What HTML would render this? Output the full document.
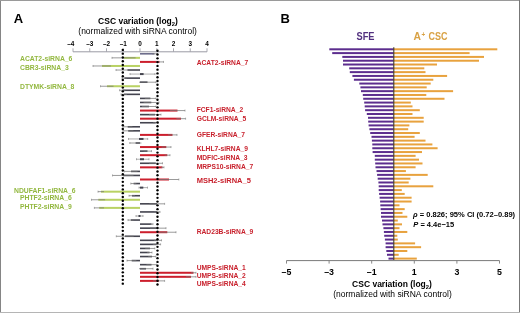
<!DOCTYPE html>
<html><head><meta charset="utf-8"><style>
html,body{margin:0;padding:0;background:#fff;}
body{width:520px;height:313px;overflow:hidden;position:relative;}
svg{display:block;font-family:"Liberation Sans", sans-serif;will-change:transform;}
</style></head><body>
<svg width="520" height="313" viewBox="0 0 520 313">
<rect x="0" y="0" width="520" height="313" fill="#fff"/>
<rect x="0" y="0" width="1" height="313" fill="#858585"/>
<rect x="0" y="0" width="520" height="1" fill="#9a9a9a"/>
<rect x="519" y="0" width="1" height="313" fill="#777"/>
<rect x="0" y="312" width="520" height="1" fill="#b5b5b5"/>
<text x="138" y="24.1" text-anchor="middle" font-weight="bold" font-size="8.5">CSC variation (log<tspan font-size="5.8" dy="1.9">2</tspan><tspan dy="-1.9">)</tspan></text>
<text x="137.6" y="34" text-anchor="middle" font-size="8.5">(normalized with siRNA control)</text>
<line x1="73.00" y1="51.8" x2="207.00" y2="51.8" stroke="#9a9aa4" stroke-width="1"/>
<line x1="73.00" y1="48.30" x2="73.00" y2="51.8" stroke="#a0a0a8" stroke-width="0.9"/>
<text x="70.80" y="46.2" text-anchor="middle" font-weight="bold" font-size="6.4">–4</text>
<line x1="89.75" y1="48.30" x2="89.75" y2="51.8" stroke="#a0a0a8" stroke-width="0.9"/>
<text x="89.75" y="46.2" text-anchor="middle" font-weight="bold" font-size="6.4">–3</text>
<line x1="106.50" y1="48.30" x2="106.50" y2="51.8" stroke="#a0a0a8" stroke-width="0.9"/>
<text x="106.50" y="46.2" text-anchor="middle" font-weight="bold" font-size="6.4">–2</text>
<line x1="123.25" y1="48.30" x2="123.25" y2="51.8" stroke="#a0a0a8" stroke-width="0.9"/>
<text x="123.25" y="46.2" text-anchor="middle" font-weight="bold" font-size="6.4">–1</text>
<line x1="140.00" y1="48.30" x2="140.00" y2="51.8" stroke="#a0a0a8" stroke-width="0.9"/>
<text x="140.00" y="46.2" text-anchor="middle" font-weight="bold" font-size="6.4">0</text>
<line x1="156.75" y1="48.30" x2="156.75" y2="51.8" stroke="#a0a0a8" stroke-width="0.9"/>
<text x="156.75" y="46.2" text-anchor="middle" font-weight="bold" font-size="6.4">1</text>
<line x1="173.50" y1="48.30" x2="173.50" y2="51.8" stroke="#a0a0a8" stroke-width="0.9"/>
<text x="173.50" y="46.2" text-anchor="middle" font-weight="bold" font-size="6.4">2</text>
<line x1="190.25" y1="48.30" x2="190.25" y2="51.8" stroke="#a0a0a8" stroke-width="0.9"/>
<text x="190.25" y="46.2" text-anchor="middle" font-weight="bold" font-size="6.4">3</text>
<line x1="207.00" y1="48.30" x2="207.00" y2="51.8" stroke="#a0a0a8" stroke-width="0.9"/>
<text x="207.00" y="46.2" text-anchor="middle" font-weight="bold" font-size="6.4">4</text>
<rect x="140.00" y="53.00" width="14.50" height="1.6" fill="#6e6e8c"/>
<line x1="152.00" y1="53.80" x2="157.00" y2="53.80" stroke="#787878" stroke-width="0.75"/>
<line x1="157.00" y1="52.80" x2="157.00" y2="54.80" stroke="#787878" stroke-width="0.6"/>
<rect x="123.80" y="56.85" width="16.20" height="2.0" fill="#b9d264"/>
<line x1="112.00" y1="57.85" x2="135.60" y2="57.85" stroke="#787878" stroke-width="0.75"/>
<line x1="112.00" y1="56.85" x2="112.00" y2="58.85" stroke="#787878" stroke-width="0.6"/>
<rect x="140.00" y="60.91" width="19.50" height="2.0" fill="#cc1f2d"/>
<line x1="155.50" y1="61.91" x2="163.50" y2="61.91" stroke="#787878" stroke-width="0.75"/>
<line x1="163.50" y1="60.91" x2="163.50" y2="62.91" stroke="#787878" stroke-width="0.6"/>
<rect x="102.00" y="64.97" width="38.00" height="2.0" fill="#b9d264"/>
<line x1="93.00" y1="65.97" x2="111.00" y2="65.97" stroke="#787878" stroke-width="0.75"/>
<line x1="93.00" y1="64.97" x2="93.00" y2="66.97" stroke="#787878" stroke-width="0.6"/>
<rect x="127.50" y="69.22" width="12.50" height="1.6" fill="#44444f"/>
<line x1="116.00" y1="70.02" x2="139.00" y2="70.02" stroke="#787878" stroke-width="0.75"/>
<line x1="116.00" y1="69.02" x2="116.00" y2="71.02" stroke="#787878" stroke-width="0.6"/>
<line x1="130" y1="74.07" x2="155" y2="74.07" stroke="#787878" stroke-width="0.6"/>
<rect x="140" y="73.07" width="3.60" height="2.0" fill="#44444f"/>
<line x1="130" y1="73.07" x2="130" y2="75.07" stroke="#787878" stroke-width="0.6"/>
<line x1="155" y1="73.07" x2="155" y2="75.07" stroke="#787878" stroke-width="0.6"/>
<rect x="124.40" y="77.33" width="15.60" height="1.6" fill="#44444f"/>
<line x1="122.00" y1="78.13" x2="126.80" y2="78.13" stroke="#787878" stroke-width="0.75"/>
<line x1="122.00" y1="77.13" x2="122.00" y2="79.13" stroke="#787878" stroke-width="0.6"/>
<rect x="140.00" y="81.39" width="7.50" height="1.6" fill="#44444f"/>
<line x1="139.00" y1="82.19" x2="156.00" y2="82.19" stroke="#787878" stroke-width="0.75"/>
<line x1="156.00" y1="81.19" x2="156.00" y2="83.19" stroke="#787878" stroke-width="0.6"/>
<rect x="107.00" y="85.24" width="33.00" height="2.0" fill="#b9d264"/>
<line x1="100.50" y1="86.24" x2="113.50" y2="86.24" stroke="#787878" stroke-width="0.75"/>
<line x1="100.50" y1="85.24" x2="100.50" y2="87.24" stroke="#787878" stroke-width="0.6"/>
<rect x="122.50" y="89.49" width="17.50" height="1.6" fill="#44444f"/>
<line x1="119.60" y1="90.29" x2="125.40" y2="90.29" stroke="#787878" stroke-width="0.75"/>
<line x1="119.60" y1="89.29" x2="119.60" y2="91.29" stroke="#787878" stroke-width="0.6"/>
<rect x="124.00" y="93.55" width="16.00" height="1.6" fill="#44444f"/>
<line x1="121.00" y1="94.35" x2="127.00" y2="94.35" stroke="#787878" stroke-width="0.75"/>
<line x1="121.00" y1="93.35" x2="121.00" y2="95.35" stroke="#787878" stroke-width="0.6"/>
<rect x="140.00" y="97.61" width="10.40" height="1.6" fill="#44444f"/>
<line x1="144.80" y1="98.41" x2="156.00" y2="98.41" stroke="#787878" stroke-width="0.75"/>
<line x1="156.00" y1="97.41" x2="156.00" y2="99.41" stroke="#787878" stroke-width="0.6"/>
<rect x="140.00" y="101.66" width="11.30" height="1.6" fill="#44444f"/>
<line x1="143.60" y1="102.46" x2="159.00" y2="102.46" stroke="#787878" stroke-width="0.75"/>
<line x1="159.00" y1="101.46" x2="159.00" y2="103.46" stroke="#787878" stroke-width="0.6"/>
<rect x="140.00" y="105.71" width="9.00" height="1.6" fill="#44444f"/>
<line x1="142.00" y1="106.51" x2="156.00" y2="106.51" stroke="#787878" stroke-width="0.75"/>
<line x1="156.00" y1="105.51" x2="156.00" y2="107.51" stroke="#787878" stroke-width="0.6"/>
<rect x="140.00" y="109.57" width="37.50" height="2.0" fill="#cc1f2d"/>
<line x1="170.00" y1="110.57" x2="185.00" y2="110.57" stroke="#787878" stroke-width="0.75"/>
<line x1="185.00" y1="109.57" x2="185.00" y2="111.57" stroke="#787878" stroke-width="0.6"/>
<rect x="140.00" y="113.83" width="15.00" height="1.6" fill="#44444f"/>
<line x1="149.00" y1="114.62" x2="161.00" y2="114.62" stroke="#787878" stroke-width="0.75"/>
<line x1="161.00" y1="113.62" x2="161.00" y2="115.62" stroke="#787878" stroke-width="0.6"/>
<rect x="140.00" y="117.68" width="41.00" height="2.0" fill="#cc1f2d"/>
<line x1="176.40" y1="118.68" x2="185.60" y2="118.68" stroke="#787878" stroke-width="0.75"/>
<line x1="185.60" y1="117.68" x2="185.60" y2="119.68" stroke="#787878" stroke-width="0.6"/>
<rect x="140.00" y="121.94" width="15.80" height="1.6" fill="#44444f"/>
<line x1="153.10" y1="122.73" x2="158.50" y2="122.73" stroke="#787878" stroke-width="0.75"/>
<line x1="158.50" y1="121.73" x2="158.50" y2="123.73" stroke="#787878" stroke-width="0.6"/>
<rect x="127.70" y="125.99" width="12.30" height="1.6" fill="#44444f"/>
<line x1="123.00" y1="126.79" x2="132.40" y2="126.79" stroke="#787878" stroke-width="0.75"/>
<line x1="123.00" y1="125.79" x2="123.00" y2="127.79" stroke="#787878" stroke-width="0.6"/>
<rect x="128.20" y="130.04" width="11.80" height="1.6" fill="#44444f"/>
<line x1="123.00" y1="130.84" x2="133.40" y2="130.84" stroke="#787878" stroke-width="0.75"/>
<line x1="123.00" y1="129.84" x2="123.00" y2="131.84" stroke="#787878" stroke-width="0.6"/>
<rect x="140.00" y="133.90" width="32.50" height="2.0" fill="#cc1f2d"/>
<line x1="168.00" y1="134.90" x2="177.00" y2="134.90" stroke="#787878" stroke-width="0.75"/>
<line x1="177.00" y1="133.90" x2="177.00" y2="135.90" stroke="#787878" stroke-width="0.6"/>
<line x1="128.5" y1="138.95" x2="147.7" y2="138.95" stroke="#787878" stroke-width="0.6"/>
<rect x="139" y="137.95" width="4.50" height="2.0" fill="#44444f"/>
<line x1="128.5" y1="137.95" x2="128.5" y2="139.95" stroke="#787878" stroke-width="0.6"/>
<line x1="147.7" y1="137.95" x2="147.7" y2="139.95" stroke="#787878" stroke-width="0.6"/>
<rect x="135.60" y="142.21" width="4.40" height="1.6" fill="#44444f"/>
<line x1="129.80" y1="143.01" x2="141.40" y2="143.01" stroke="#787878" stroke-width="0.75"/>
<line x1="129.80" y1="142.01" x2="129.80" y2="144.01" stroke="#787878" stroke-width="0.6"/>
<rect x="140.00" y="146.06" width="26.30" height="2.0" fill="#cc1f2d"/>
<line x1="161.60" y1="147.06" x2="171.00" y2="147.06" stroke="#787878" stroke-width="0.75"/>
<line x1="171.00" y1="146.06" x2="171.00" y2="148.06" stroke="#787878" stroke-width="0.6"/>
<rect x="140.00" y="150.32" width="7.50" height="1.6" fill="#44444f"/>
<line x1="143.50" y1="151.12" x2="151.50" y2="151.12" stroke="#787878" stroke-width="0.75"/>
<line x1="151.50" y1="150.12" x2="151.50" y2="152.12" stroke="#787878" stroke-width="0.6"/>
<rect x="140.00" y="154.18" width="27.30" height="2.0" fill="#cc1f2d"/>
<line x1="164.60" y1="155.18" x2="170.00" y2="155.18" stroke="#787878" stroke-width="0.75"/>
<line x1="170.00" y1="154.18" x2="170.00" y2="156.18" stroke="#787878" stroke-width="0.6"/>
<line x1="136.5" y1="159.23" x2="149" y2="159.23" stroke="#787878" stroke-width="0.6"/>
<rect x="140" y="158.23" width="4.00" height="2.0" fill="#44444f"/>
<line x1="136.5" y1="158.23" x2="136.5" y2="160.23" stroke="#787878" stroke-width="0.6"/>
<line x1="149" y1="158.23" x2="149" y2="160.23" stroke="#787878" stroke-width="0.6"/>
<rect x="140.00" y="162.48" width="15.80" height="1.6" fill="#44444f"/>
<line x1="149.10" y1="163.28" x2="162.50" y2="163.28" stroke="#787878" stroke-width="0.75"/>
<line x1="162.50" y1="162.28" x2="162.50" y2="164.28" stroke="#787878" stroke-width="0.6"/>
<rect x="140.00" y="166.34" width="22.50" height="2.0" fill="#cc1f2d"/>
<line x1="161.00" y1="167.34" x2="164.00" y2="167.34" stroke="#787878" stroke-width="0.75"/>
<line x1="164.00" y1="166.34" x2="164.00" y2="168.34" stroke="#787878" stroke-width="0.6"/>
<rect x="131.00" y="170.59" width="9.00" height="1.6" fill="#44444f"/>
<line x1="124.50" y1="171.39" x2="137.50" y2="171.39" stroke="#787878" stroke-width="0.75"/>
<line x1="124.50" y1="170.39" x2="124.50" y2="172.39" stroke="#787878" stroke-width="0.6"/>
<rect x="123.00" y="174.65" width="17.00" height="1.6" fill="#44444f"/>
<line x1="112.50" y1="175.45" x2="133.50" y2="175.45" stroke="#787878" stroke-width="0.75"/>
<line x1="112.50" y1="174.45" x2="112.50" y2="176.45" stroke="#787878" stroke-width="0.6"/>
<rect x="140.00" y="178.50" width="29.00" height="2.0" fill="#cc1f2d"/>
<line x1="159.20" y1="179.50" x2="178.80" y2="179.50" stroke="#787878" stroke-width="0.75"/>
<line x1="178.80" y1="178.50" x2="178.80" y2="180.50" stroke="#787878" stroke-width="0.6"/>
<rect x="133.60" y="182.76" width="6.40" height="1.6" fill="#44444f"/>
<line x1="130.80" y1="183.56" x2="136.40" y2="183.56" stroke="#787878" stroke-width="0.75"/>
<line x1="130.80" y1="182.56" x2="130.80" y2="184.56" stroke="#787878" stroke-width="0.6"/>
<line x1="139" y1="187.62" x2="147.5" y2="187.62" stroke="#787878" stroke-width="0.6"/>
<rect x="140" y="186.62" width="3.30" height="2.0" fill="#44444f"/>
<line x1="139" y1="186.62" x2="139" y2="188.62" stroke="#787878" stroke-width="0.6"/>
<line x1="147.5" y1="186.62" x2="147.5" y2="188.62" stroke="#787878" stroke-width="0.6"/>
<rect x="101.00" y="190.67" width="39.00" height="2.0" fill="#b9d264"/>
<line x1="98.00" y1="191.67" x2="104.00" y2="191.67" stroke="#787878" stroke-width="0.75"/>
<line x1="98.00" y1="190.67" x2="98.00" y2="192.67" stroke="#787878" stroke-width="0.6"/>
<rect x="132.00" y="194.92" width="8.00" height="1.6" fill="#44444f"/>
<line x1="129.00" y1="195.72" x2="135.00" y2="195.72" stroke="#787878" stroke-width="0.75"/>
<line x1="129.00" y1="194.72" x2="129.00" y2="196.72" stroke="#787878" stroke-width="0.6"/>
<rect x="98.30" y="198.78" width="41.70" height="2.0" fill="#b9d264"/>
<line x1="91.50" y1="199.78" x2="105.10" y2="199.78" stroke="#787878" stroke-width="0.75"/>
<line x1="91.50" y1="198.78" x2="91.50" y2="200.78" stroke="#787878" stroke-width="0.6"/>
<rect x="140.00" y="203.03" width="17.00" height="1.6" fill="#44444f"/>
<line x1="149.40" y1="203.83" x2="164.60" y2="203.83" stroke="#787878" stroke-width="0.75"/>
<line x1="164.60" y1="202.83" x2="164.60" y2="204.83" stroke="#787878" stroke-width="0.6"/>
<rect x="99.20" y="206.89" width="40.80" height="2.0" fill="#b9d264"/>
<line x1="94.40" y1="207.89" x2="104.00" y2="207.89" stroke="#787878" stroke-width="0.75"/>
<line x1="94.40" y1="206.89" x2="94.40" y2="208.89" stroke="#787878" stroke-width="0.6"/>
<rect x="140.00" y="211.14" width="17.00" height="1.6" fill="#44444f"/>
<line x1="154.00" y1="211.94" x2="160.00" y2="211.94" stroke="#787878" stroke-width="0.75"/>
<line x1="160.00" y1="210.94" x2="160.00" y2="212.94" stroke="#787878" stroke-width="0.6"/>
<line x1="136" y1="216.00" x2="143" y2="216.00" stroke="#787878" stroke-width="0.6"/>
<rect x="138.5" y="215.00" width="2.00" height="2.0" fill="#44444f"/>
<line x1="136" y1="215.00" x2="136" y2="217.00" stroke="#787878" stroke-width="0.6"/>
<line x1="143" y1="215.00" x2="143" y2="217.00" stroke="#787878" stroke-width="0.6"/>
<rect x="130.80" y="219.25" width="9.20" height="1.6" fill="#44444f"/>
<line x1="128.00" y1="220.06" x2="133.60" y2="220.06" stroke="#787878" stroke-width="0.75"/>
<line x1="128.00" y1="219.06" x2="128.00" y2="221.06" stroke="#787878" stroke-width="0.6"/>
<rect x="140.00" y="223.31" width="11.50" height="1.6" fill="#44444f"/>
<line x1="150.00" y1="224.11" x2="153.00" y2="224.11" stroke="#787878" stroke-width="0.75"/>
<line x1="153.00" y1="223.11" x2="153.00" y2="225.11" stroke="#787878" stroke-width="0.6"/>
<rect x="140.00" y="227.36" width="18.00" height="1.6" fill="#44444f"/>
<line x1="150.00" y1="228.16" x2="166.00" y2="228.16" stroke="#787878" stroke-width="0.75"/>
<line x1="166.00" y1="227.16" x2="166.00" y2="229.16" stroke="#787878" stroke-width="0.6"/>
<rect x="140.00" y="231.22" width="27.30" height="2.0" fill="#cc1f2d"/>
<line x1="158.60" y1="232.22" x2="176.00" y2="232.22" stroke="#787878" stroke-width="0.75"/>
<line x1="176.00" y1="231.22" x2="176.00" y2="233.22" stroke="#787878" stroke-width="0.6"/>
<rect x="125.00" y="235.47" width="15.00" height="1.6" fill="#44444f"/>
<line x1="116.30" y1="236.27" x2="133.70" y2="236.27" stroke="#787878" stroke-width="0.75"/>
<line x1="116.30" y1="235.27" x2="116.30" y2="237.27" stroke="#787878" stroke-width="0.6"/>
<rect x="140.00" y="239.53" width="17.70" height="1.6" fill="#44444f"/>
<line x1="153.90" y1="240.33" x2="161.50" y2="240.33" stroke="#787878" stroke-width="0.75"/>
<line x1="161.50" y1="239.33" x2="161.50" y2="241.33" stroke="#787878" stroke-width="0.6"/>
<rect x="140.00" y="243.58" width="16.70" height="1.6" fill="#44444f"/>
<line x1="152.80" y1="244.38" x2="160.60" y2="244.38" stroke="#787878" stroke-width="0.75"/>
<line x1="160.60" y1="243.38" x2="160.60" y2="245.38" stroke="#787878" stroke-width="0.6"/>
<rect x="140.00" y="247.64" width="10.00" height="1.6" fill="#44444f"/>
<line x1="145.20" y1="248.44" x2="154.80" y2="248.44" stroke="#787878" stroke-width="0.75"/>
<line x1="154.80" y1="247.44" x2="154.80" y2="249.44" stroke="#787878" stroke-width="0.6"/>
<rect x="140.00" y="251.69" width="9.60" height="1.6" fill="#44444f"/>
<line x1="147.20" y1="252.50" x2="152.00" y2="252.50" stroke="#787878" stroke-width="0.75"/>
<line x1="152.00" y1="251.50" x2="152.00" y2="253.50" stroke="#787878" stroke-width="0.6"/>
<rect x="140.00" y="255.75" width="12.00" height="1.6" fill="#44444f"/>
<line x1="148.20" y1="256.55" x2="155.80" y2="256.55" stroke="#787878" stroke-width="0.75"/>
<line x1="155.80" y1="255.55" x2="155.80" y2="257.55" stroke="#787878" stroke-width="0.6"/>
<rect x="131.70" y="259.80" width="8.30" height="1.6" fill="#44444f"/>
<line x1="127.00" y1="260.60" x2="136.40" y2="260.60" stroke="#787878" stroke-width="0.75"/>
<line x1="127.00" y1="259.60" x2="127.00" y2="261.60" stroke="#787878" stroke-width="0.6"/>
<rect x="140.00" y="263.86" width="11.50" height="1.6" fill="#44444f"/>
<line x1="146.40" y1="264.66" x2="156.60" y2="264.66" stroke="#787878" stroke-width="0.75"/>
<line x1="156.60" y1="263.66" x2="156.60" y2="265.66" stroke="#787878" stroke-width="0.6"/>
<rect x="140.00" y="267.91" width="6.00" height="1.6" fill="#44444f"/>
<line x1="139.00" y1="268.71" x2="153.00" y2="268.71" stroke="#787878" stroke-width="0.75"/>
<line x1="153.00" y1="267.71" x2="153.00" y2="269.71" stroke="#787878" stroke-width="0.6"/>
<rect x="140.00" y="271.77" width="53.50" height="2.0" fill="#cc1f2d"/>
<line x1="191.00" y1="272.77" x2="196.00" y2="272.77" stroke="#787878" stroke-width="0.75"/>
<line x1="196.00" y1="271.77" x2="196.00" y2="273.77" stroke="#787878" stroke-width="0.6"/>
<rect x="140.00" y="275.82" width="51.00" height="2.0" fill="#cc1f2d"/>
<line x1="186.00" y1="276.82" x2="196.00" y2="276.82" stroke="#787878" stroke-width="0.75"/>
<line x1="196.00" y1="275.82" x2="196.00" y2="277.82" stroke="#787878" stroke-width="0.6"/>
<rect x="140.00" y="279.88" width="18.80" height="2.0" fill="#cc1f2d"/>
<line x1="153.00" y1="280.88" x2="164.60" y2="280.88" stroke="#787878" stroke-width="0.75"/>
<line x1="164.60" y1="279.88" x2="164.60" y2="281.88" stroke="#787878" stroke-width="0.6"/>
<circle cx="122.8" cy="49.90" r="1.2" fill="#000"/>
<circle cx="122.8" cy="53.67" r="1.2" fill="#000"/>
<circle cx="122.8" cy="57.44" r="1.2" fill="#000"/>
<circle cx="122.8" cy="61.21" r="1.2" fill="#000"/>
<circle cx="122.8" cy="64.98" r="1.2" fill="#000"/>
<circle cx="122.8" cy="68.75" r="1.2" fill="#000"/>
<circle cx="122.8" cy="72.52" r="1.2" fill="#000"/>
<circle cx="122.8" cy="76.29" r="1.2" fill="#000"/>
<circle cx="122.8" cy="80.06" r="1.2" fill="#000"/>
<circle cx="122.8" cy="83.83" r="1.2" fill="#000"/>
<circle cx="122.8" cy="87.60" r="1.2" fill="#000"/>
<circle cx="122.8" cy="91.37" r="1.2" fill="#000"/>
<circle cx="122.8" cy="95.14" r="1.2" fill="#000"/>
<circle cx="122.8" cy="98.91" r="1.2" fill="#000"/>
<circle cx="122.8" cy="102.68" r="1.2" fill="#000"/>
<circle cx="122.8" cy="106.45" r="1.2" fill="#000"/>
<circle cx="122.8" cy="110.22" r="1.2" fill="#000"/>
<circle cx="122.8" cy="113.99" r="1.2" fill="#000"/>
<circle cx="122.8" cy="117.76" r="1.2" fill="#000"/>
<circle cx="122.8" cy="121.53" r="1.2" fill="#000"/>
<circle cx="122.8" cy="125.30" r="1.2" fill="#000"/>
<circle cx="122.8" cy="129.07" r="1.2" fill="#000"/>
<circle cx="122.8" cy="132.84" r="1.2" fill="#000"/>
<circle cx="122.8" cy="136.61" r="1.2" fill="#000"/>
<circle cx="122.8" cy="140.38" r="1.2" fill="#000"/>
<circle cx="122.8" cy="144.15" r="1.2" fill="#000"/>
<circle cx="122.8" cy="147.92" r="1.2" fill="#000"/>
<circle cx="122.8" cy="151.69" r="1.2" fill="#000"/>
<circle cx="122.8" cy="155.46" r="1.2" fill="#000"/>
<circle cx="122.8" cy="159.23" r="1.2" fill="#000"/>
<circle cx="122.8" cy="163.00" r="1.2" fill="#000"/>
<circle cx="122.8" cy="166.77" r="1.2" fill="#000"/>
<circle cx="122.8" cy="170.54" r="1.2" fill="#000"/>
<circle cx="122.8" cy="174.31" r="1.2" fill="#000"/>
<circle cx="122.8" cy="178.08" r="1.2" fill="#000"/>
<circle cx="122.8" cy="181.85" r="1.2" fill="#000"/>
<circle cx="122.8" cy="185.62" r="1.2" fill="#000"/>
<circle cx="122.8" cy="189.39" r="1.2" fill="#000"/>
<circle cx="122.8" cy="193.16" r="1.2" fill="#000"/>
<circle cx="122.8" cy="196.93" r="1.2" fill="#000"/>
<circle cx="122.8" cy="200.70" r="1.2" fill="#000"/>
<circle cx="122.8" cy="204.47" r="1.2" fill="#000"/>
<circle cx="122.8" cy="208.24" r="1.2" fill="#000"/>
<circle cx="122.8" cy="212.01" r="1.2" fill="#000"/>
<circle cx="122.8" cy="215.78" r="1.2" fill="#000"/>
<circle cx="122.8" cy="219.55" r="1.2" fill="#000"/>
<circle cx="122.8" cy="223.32" r="1.2" fill="#000"/>
<circle cx="122.8" cy="227.09" r="1.2" fill="#000"/>
<circle cx="122.8" cy="230.86" r="1.2" fill="#000"/>
<circle cx="122.8" cy="234.63" r="1.2" fill="#000"/>
<circle cx="122.8" cy="238.40" r="1.2" fill="#000"/>
<circle cx="122.8" cy="242.17" r="1.2" fill="#000"/>
<circle cx="122.8" cy="245.94" r="1.2" fill="#000"/>
<circle cx="122.8" cy="249.71" r="1.2" fill="#000"/>
<circle cx="122.8" cy="253.48" r="1.2" fill="#000"/>
<circle cx="122.8" cy="257.25" r="1.2" fill="#000"/>
<circle cx="122.8" cy="261.02" r="1.2" fill="#000"/>
<circle cx="122.8" cy="264.79" r="1.2" fill="#000"/>
<circle cx="122.8" cy="268.56" r="1.2" fill="#000"/>
<circle cx="122.8" cy="272.33" r="1.2" fill="#000"/>
<circle cx="122.8" cy="276.10" r="1.2" fill="#000"/>
<circle cx="122.8" cy="279.87" r="1.2" fill="#000"/>
<circle cx="122.8" cy="283.64" r="1.2" fill="#000"/>
<circle cx="157.5" cy="50.80" r="1.2" fill="#000"/>
<circle cx="157.5" cy="54.57" r="1.2" fill="#000"/>
<circle cx="157.5" cy="58.34" r="1.2" fill="#000"/>
<circle cx="157.5" cy="62.11" r="1.2" fill="#000"/>
<circle cx="157.5" cy="65.88" r="1.2" fill="#000"/>
<circle cx="157.5" cy="69.65" r="1.2" fill="#000"/>
<circle cx="157.5" cy="73.42" r="1.2" fill="#000"/>
<circle cx="157.5" cy="77.19" r="1.2" fill="#000"/>
<circle cx="157.5" cy="80.96" r="1.2" fill="#000"/>
<circle cx="157.5" cy="84.73" r="1.2" fill="#000"/>
<circle cx="157.5" cy="88.50" r="1.2" fill="#000"/>
<circle cx="157.5" cy="92.27" r="1.2" fill="#000"/>
<circle cx="157.5" cy="96.04" r="1.2" fill="#000"/>
<circle cx="157.5" cy="99.81" r="1.2" fill="#000"/>
<circle cx="157.5" cy="103.58" r="1.2" fill="#000"/>
<circle cx="157.5" cy="107.35" r="1.2" fill="#000"/>
<circle cx="157.5" cy="111.12" r="1.2" fill="#000"/>
<circle cx="157.5" cy="114.89" r="1.2" fill="#000"/>
<circle cx="157.5" cy="118.66" r="1.2" fill="#000"/>
<circle cx="157.5" cy="122.43" r="1.2" fill="#000"/>
<circle cx="157.5" cy="126.20" r="1.2" fill="#000"/>
<circle cx="157.5" cy="129.97" r="1.2" fill="#000"/>
<circle cx="157.5" cy="133.74" r="1.2" fill="#000"/>
<circle cx="157.5" cy="137.51" r="1.2" fill="#000"/>
<circle cx="157.5" cy="141.28" r="1.2" fill="#000"/>
<circle cx="157.5" cy="145.05" r="1.2" fill="#000"/>
<circle cx="157.5" cy="148.82" r="1.2" fill="#000"/>
<circle cx="157.5" cy="152.59" r="1.2" fill="#000"/>
<circle cx="157.5" cy="156.36" r="1.2" fill="#000"/>
<circle cx="157.5" cy="160.13" r="1.2" fill="#000"/>
<circle cx="157.5" cy="163.90" r="1.2" fill="#000"/>
<circle cx="157.5" cy="167.67" r="1.2" fill="#000"/>
<circle cx="157.5" cy="171.44" r="1.2" fill="#000"/>
<circle cx="157.5" cy="175.21" r="1.2" fill="#000"/>
<circle cx="157.5" cy="178.98" r="1.2" fill="#000"/>
<circle cx="157.5" cy="182.75" r="1.2" fill="#000"/>
<circle cx="157.5" cy="186.52" r="1.2" fill="#000"/>
<circle cx="157.5" cy="190.29" r="1.2" fill="#000"/>
<circle cx="157.5" cy="194.06" r="1.2" fill="#000"/>
<circle cx="157.5" cy="197.83" r="1.2" fill="#000"/>
<circle cx="157.5" cy="201.60" r="1.2" fill="#000"/>
<circle cx="157.5" cy="205.37" r="1.2" fill="#000"/>
<circle cx="157.5" cy="209.14" r="1.2" fill="#000"/>
<circle cx="157.5" cy="212.91" r="1.2" fill="#000"/>
<circle cx="157.5" cy="216.68" r="1.2" fill="#000"/>
<circle cx="157.5" cy="220.45" r="1.2" fill="#000"/>
<circle cx="157.5" cy="224.22" r="1.2" fill="#000"/>
<circle cx="157.5" cy="227.99" r="1.2" fill="#000"/>
<circle cx="157.5" cy="231.76" r="1.2" fill="#000"/>
<circle cx="157.5" cy="235.53" r="1.2" fill="#000"/>
<circle cx="157.5" cy="239.30" r="1.2" fill="#000"/>
<circle cx="157.5" cy="243.07" r="1.2" fill="#000"/>
<circle cx="157.5" cy="246.84" r="1.2" fill="#000"/>
<circle cx="157.5" cy="250.61" r="1.2" fill="#000"/>
<circle cx="157.5" cy="254.38" r="1.2" fill="#000"/>
<circle cx="157.5" cy="258.15" r="1.2" fill="#000"/>
<circle cx="157.5" cy="261.92" r="1.2" fill="#000"/>
<circle cx="157.5" cy="265.69" r="1.2" fill="#000"/>
<circle cx="157.5" cy="269.46" r="1.2" fill="#000"/>
<circle cx="157.5" cy="273.23" r="1.2" fill="#000"/>
<circle cx="157.5" cy="277.00" r="1.2" fill="#000"/>
<circle cx="157.5" cy="280.77" r="1.2" fill="#000"/>
<circle cx="157.5" cy="284.54" r="1.2" fill="#000"/>
<text x="20" y="60.70" font-weight="bold" font-size="6.8" fill="#93b840">ACAT2-siRNA_6</text>
<text x="20" y="69.50" font-weight="bold" font-size="6.8" fill="#93b840">CBR3-siRNA_3</text>
<text x="20" y="89.20" font-weight="bold" font-size="6.8" fill="#93b840">DTYMK-siRNA_8</text>
<text x="14" y="193.40" font-weight="bold" font-size="6.8" fill="#93b840">NDUFAF1-siRNA_6</text>
<text x="20" y="199.90" font-weight="bold" font-size="6.8" fill="#93b840">PHTF2-siRNA_6</text>
<text x="20" y="208.90" font-weight="bold" font-size="6.8" fill="#93b840">PHTF2-siRNA_9</text>
<text x="196.7" y="65.10" font-weight="bold" font-size="6.7" fill="#c8202c">ACAT2-siRNA_7</text>
<text x="196.7" y="111.80" font-weight="bold" font-size="6.7" fill="#c8202c">FCF1-siRNA_2</text>
<text x="196.7" y="120.50" font-weight="bold" font-size="6.7" fill="#c8202c">GCLM-siRNA_5</text>
<text x="196.7" y="137.10" font-weight="bold" font-size="6.7" fill="#c8202c">GFER-siRNA_7</text>
<text x="196.7" y="150.80" font-weight="bold" font-size="6.7" fill="#c8202c">KLHL7-siRNA_9</text>
<text x="196.7" y="159.60" font-weight="bold" font-size="6.7" fill="#c8202c">MDFIC-siRNA_3</text>
<text x="196.7" y="168.80" font-weight="bold" font-size="6.7" fill="#c8202c">MRPS10-siRNA_7</text>
<text x="196.7" y="183.00" font-weight="bold" font-size="7.5" fill="#c8202c">MSH2-siRNA_5</text>
<text x="196.7" y="234.20" font-weight="bold" font-size="6.7" fill="#c8202c">RAD23B-siRNA_9</text>
<text x="196.7" y="270.30" font-weight="bold" font-size="6.7" fill="#c8202c">UMPS-siRNA_1</text>
<text x="196.7" y="278.20" font-weight="bold" font-size="6.7" fill="#c8202c">UMPS-siRNA_2</text>
<text x="196.7" y="286.20" font-weight="bold" font-size="6.7" fill="#c8202c">UMPS-siRNA_4</text>
<text x="13.8" y="23" font-weight="bold" font-size="13">A</text>
<text x="280.5" y="23" font-weight="bold" font-size="13">B</text>
<text x="356.5" y="40.3" font-weight="bold" font-size="10.3" fill="#52307f" textLength="18" lengthAdjust="spacingAndGlyphs">SFE</text>
<text x="413.6" y="40.3" font-weight="bold" font-size="10.3" fill="#d9a245">A</text>
<text x="421.6" y="36.6" font-weight="bold" font-size="6.3" fill="#d9a245">+</text>
<text x="428.6" y="40.3" font-weight="bold" font-size="10.3" fill="#d9a245" textLength="19" lengthAdjust="spacingAndGlyphs">CSC</text>
<rect x="329.30" y="48.30" width="64.50" height="2" fill="#5c2d8e"/>
<rect x="393.80" y="48.30" width="103.50" height="2" fill="#e8a23e"/>
<rect x="332.20" y="52.11" width="61.60" height="2" fill="#5c2d8e"/>
<rect x="393.80" y="52.11" width="75.80" height="2" fill="#e8a23e"/>
<rect x="342.30" y="55.91" width="51.50" height="2" fill="#5c2d8e"/>
<rect x="393.80" y="55.91" width="90.20" height="2" fill="#e8a23e"/>
<rect x="343.00" y="59.72" width="50.80" height="2" fill="#5c2d8e"/>
<rect x="393.80" y="59.72" width="85.20" height="2" fill="#e8a23e"/>
<rect x="343.00" y="63.52" width="50.80" height="2" fill="#5c2d8e"/>
<rect x="393.80" y="63.52" width="43.20" height="2" fill="#e8a23e"/>
<rect x="349.20" y="67.33" width="44.60" height="2" fill="#5c2d8e"/>
<rect x="393.80" y="67.33" width="30.50" height="2" fill="#e8a23e"/>
<rect x="349.80" y="71.13" width="44.00" height="2" fill="#5c2d8e"/>
<rect x="393.80" y="71.13" width="31.70" height="2" fill="#e8a23e"/>
<rect x="352.40" y="74.94" width="41.40" height="2" fill="#5c2d8e"/>
<rect x="393.80" y="74.94" width="53.30" height="2" fill="#e8a23e"/>
<rect x="353.90" y="78.74" width="39.90" height="2" fill="#5c2d8e"/>
<rect x="393.80" y="78.74" width="39.50" height="2" fill="#e8a23e"/>
<rect x="359.30" y="82.55" width="34.50" height="2" fill="#5c2d8e"/>
<rect x="393.80" y="82.55" width="36.90" height="2" fill="#e8a23e"/>
<rect x="360.40" y="86.35" width="33.40" height="2" fill="#5c2d8e"/>
<rect x="393.80" y="86.35" width="32.90" height="2" fill="#e8a23e"/>
<rect x="361.00" y="90.16" width="32.80" height="2" fill="#5c2d8e"/>
<rect x="393.80" y="90.16" width="59.30" height="2" fill="#e8a23e"/>
<rect x="362.80" y="93.97" width="31.00" height="2" fill="#5c2d8e"/>
<rect x="393.80" y="93.97" width="32.50" height="2" fill="#e8a23e"/>
<rect x="363.20" y="97.77" width="30.60" height="2" fill="#5c2d8e"/>
<rect x="393.80" y="97.77" width="50.70" height="2" fill="#e8a23e"/>
<rect x="364.20" y="101.58" width="29.60" height="2" fill="#5c2d8e"/>
<rect x="393.80" y="101.58" width="17.00" height="2" fill="#e8a23e"/>
<rect x="364.70" y="105.38" width="29.10" height="2" fill="#5c2d8e"/>
<rect x="393.80" y="105.38" width="18.70" height="2" fill="#e8a23e"/>
<rect x="365.10" y="109.19" width="28.70" height="2" fill="#5c2d8e"/>
<rect x="393.80" y="109.19" width="26.00" height="2" fill="#e8a23e"/>
<rect x="366.80" y="112.99" width="27.00" height="2" fill="#5c2d8e"/>
<rect x="393.80" y="112.99" width="18.70" height="2" fill="#e8a23e"/>
<rect x="368.00" y="116.80" width="25.80" height="2" fill="#5c2d8e"/>
<rect x="393.80" y="116.80" width="29.90" height="2" fill="#e8a23e"/>
<rect x="368.20" y="120.60" width="25.60" height="2" fill="#5c2d8e"/>
<rect x="393.80" y="120.60" width="29.90" height="2" fill="#e8a23e"/>
<rect x="368.60" y="124.41" width="25.20" height="2" fill="#5c2d8e"/>
<rect x="393.80" y="124.41" width="15.60" height="2" fill="#e8a23e"/>
<rect x="369.40" y="128.21" width="24.40" height="2" fill="#5c2d8e"/>
<rect x="393.80" y="128.21" width="14.40" height="2" fill="#e8a23e"/>
<rect x="370.20" y="132.02" width="23.60" height="2" fill="#5c2d8e"/>
<rect x="393.80" y="132.02" width="26.00" height="2" fill="#e8a23e"/>
<rect x="371.50" y="135.83" width="22.30" height="2" fill="#5c2d8e"/>
<rect x="393.80" y="135.83" width="20.80" height="2" fill="#e8a23e"/>
<rect x="371.90" y="139.63" width="21.90" height="2" fill="#5c2d8e"/>
<rect x="393.80" y="139.63" width="31.70" height="2" fill="#e8a23e"/>
<rect x="372.30" y="143.44" width="21.50" height="2" fill="#5c2d8e"/>
<rect x="393.80" y="143.44" width="38.60" height="2" fill="#e8a23e"/>
<rect x="372.30" y="147.24" width="21.50" height="2" fill="#5c2d8e"/>
<rect x="393.80" y="147.24" width="43.80" height="2" fill="#e8a23e"/>
<rect x="372.60" y="151.05" width="21.20" height="2" fill="#5c2d8e"/>
<rect x="393.80" y="151.05" width="28.20" height="2" fill="#e8a23e"/>
<rect x="374.80" y="154.85" width="19.00" height="2" fill="#5c2d8e"/>
<rect x="393.80" y="154.85" width="21.80" height="2" fill="#e8a23e"/>
<rect x="374.80" y="158.66" width="19.00" height="2" fill="#5c2d8e"/>
<rect x="393.80" y="158.66" width="25.20" height="2" fill="#e8a23e"/>
<rect x="375.20" y="162.46" width="18.60" height="2" fill="#5c2d8e"/>
<rect x="393.80" y="162.46" width="28.70" height="2" fill="#e8a23e"/>
<rect x="375.50" y="166.27" width="18.30" height="2" fill="#5c2d8e"/>
<rect x="393.80" y="166.27" width="21.80" height="2" fill="#e8a23e"/>
<rect x="376.50" y="170.07" width="17.30" height="2" fill="#5c2d8e"/>
<rect x="393.80" y="170.07" width="12.10" height="2" fill="#e8a23e"/>
<rect x="377.10" y="173.88" width="16.70" height="2" fill="#5c2d8e"/>
<rect x="393.80" y="173.88" width="33.90" height="2" fill="#e8a23e"/>
<rect x="377.70" y="177.69" width="16.10" height="2" fill="#5c2d8e"/>
<rect x="393.80" y="177.69" width="16.60" height="2" fill="#e8a23e"/>
<rect x="378.40" y="181.49" width="15.40" height="2" fill="#5c2d8e"/>
<rect x="393.80" y="181.49" width="14.90" height="2" fill="#e8a23e"/>
<rect x="378.70" y="185.30" width="15.10" height="2" fill="#5c2d8e"/>
<rect x="393.80" y="185.30" width="39.50" height="2" fill="#e8a23e"/>
<rect x="378.70" y="189.10" width="15.10" height="2" fill="#5c2d8e"/>
<rect x="393.80" y="189.10" width="8.00" height="2" fill="#e8a23e"/>
<rect x="379.10" y="192.91" width="14.70" height="2" fill="#5c2d8e"/>
<rect x="393.80" y="192.91" width="10.90" height="2" fill="#e8a23e"/>
<rect x="379.60" y="196.71" width="14.20" height="2" fill="#5c2d8e"/>
<rect x="393.80" y="196.71" width="17.80" height="2" fill="#e8a23e"/>
<rect x="380.10" y="200.52" width="13.70" height="2" fill="#5c2d8e"/>
<rect x="393.80" y="200.52" width="17.80" height="2" fill="#e8a23e"/>
<rect x="380.30" y="204.32" width="13.50" height="2" fill="#5c2d8e"/>
<rect x="393.80" y="204.32" width="5.70" height="2" fill="#e8a23e"/>
<rect x="380.60" y="208.13" width="13.20" height="2" fill="#5c2d8e"/>
<rect x="393.80" y="208.13" width="10.90" height="2" fill="#e8a23e"/>
<rect x="381.00" y="211.93" width="12.80" height="2" fill="#5c2d8e"/>
<rect x="393.80" y="211.93" width="8.70" height="2" fill="#e8a23e"/>
<rect x="381.00" y="215.74" width="12.80" height="2" fill="#5c2d8e"/>
<rect x="393.80" y="215.74" width="13.50" height="2" fill="#e8a23e"/>
<rect x="382.00" y="219.55" width="11.80" height="2" fill="#5c2d8e"/>
<rect x="393.80" y="219.55" width="4.00" height="2" fill="#e8a23e"/>
<rect x="382.50" y="223.35" width="11.30" height="2" fill="#5c2d8e"/>
<rect x="393.80" y="223.35" width="8.20" height="2" fill="#e8a23e"/>
<rect x="383.40" y="227.16" width="10.40" height="2" fill="#5c2d8e"/>
<rect x="393.80" y="227.16" width="5.70" height="2" fill="#e8a23e"/>
<rect x="383.90" y="230.96" width="9.90" height="2" fill="#5c2d8e"/>
<rect x="393.80" y="230.96" width="13.50" height="2" fill="#e8a23e"/>
<rect x="384.20" y="234.77" width="9.60" height="2" fill="#5c2d8e"/>
<rect x="393.80" y="234.77" width="3.50" height="2" fill="#e8a23e"/>
<rect x="384.90" y="238.57" width="8.90" height="2" fill="#5c2d8e"/>
<rect x="393.80" y="238.57" width="4.00" height="2" fill="#e8a23e"/>
<rect x="385.60" y="242.38" width="8.20" height="2" fill="#5c2d8e"/>
<rect x="393.80" y="242.38" width="21.30" height="2" fill="#e8a23e"/>
<rect x="385.60" y="246.18" width="8.20" height="2" fill="#5c2d8e"/>
<rect x="393.80" y="246.18" width="27.30" height="2" fill="#e8a23e"/>
<rect x="386.30" y="249.99" width="7.50" height="2" fill="#5c2d8e"/>
<rect x="393.80" y="249.99" width="13.50" height="2" fill="#e8a23e"/>
<rect x="387.00" y="253.79" width="6.80" height="2" fill="#5c2d8e"/>
<rect x="393.80" y="253.79" width="4.90" height="2" fill="#e8a23e"/>
<rect x="388.50" y="257.60" width="5.30" height="2" fill="#5c2d8e"/>
<rect x="393.80" y="257.60" width="23.00" height="2" fill="#e8a23e"/>
<line x1="393.80" y1="47.3" x2="393.80" y2="260" stroke="#3d3a2a" stroke-width="1.1"/>
<line x1="286.50" y1="260.6" x2="499.50" y2="260.6" stroke="#7a7a7a" stroke-width="1"/>
<line x1="286.50" y1="260.6" x2="286.50" y2="263.6" stroke="#7a7a7a" stroke-width="0.9"/>
<text x="286.50" y="274.5" text-anchor="middle" font-weight="bold" font-size="8.8">–5</text>
<line x1="329.10" y1="260.6" x2="329.10" y2="263.6" stroke="#7a7a7a" stroke-width="0.9"/>
<text x="329.10" y="274.5" text-anchor="middle" font-weight="bold" font-size="8.8">–3</text>
<line x1="371.70" y1="260.6" x2="371.70" y2="263.6" stroke="#7a7a7a" stroke-width="0.9"/>
<text x="371.70" y="274.5" text-anchor="middle" font-weight="bold" font-size="8.8">–1</text>
<line x1="414.30" y1="260.6" x2="414.30" y2="263.6" stroke="#7a7a7a" stroke-width="0.9"/>
<text x="414.30" y="274.5" text-anchor="middle" font-weight="bold" font-size="8.8">1</text>
<line x1="456.90" y1="260.6" x2="456.90" y2="263.6" stroke="#7a7a7a" stroke-width="0.9"/>
<text x="456.90" y="274.5" text-anchor="middle" font-weight="bold" font-size="8.8">3</text>
<line x1="499.50" y1="260.6" x2="499.50" y2="263.6" stroke="#7a7a7a" stroke-width="0.9"/>
<text x="499.50" y="274.5" text-anchor="middle" font-weight="bold" font-size="8.8">5</text>
<text x="392" y="287" text-anchor="middle" font-weight="bold" font-size="8.5">CSC variation (log<tspan font-size="5.8" dy="1.9">2</tspan><tspan dy="-1.9">)</tspan></text>
<text x="392.5" y="297.3" text-anchor="middle" font-size="8.5">(normalized with siRNA control)</text>
<text x="413" y="216.8" font-weight="bold" font-size="7.55"><tspan font-style="italic">ρ</tspan> = 0.826; 95% CI (0.72–0.89)</text>
<text x="413.3" y="227.3" font-weight="bold" font-size="7.5"><tspan font-style="italic">P</tspan> = 4.4e−15</text>
</svg>
</body></html>
